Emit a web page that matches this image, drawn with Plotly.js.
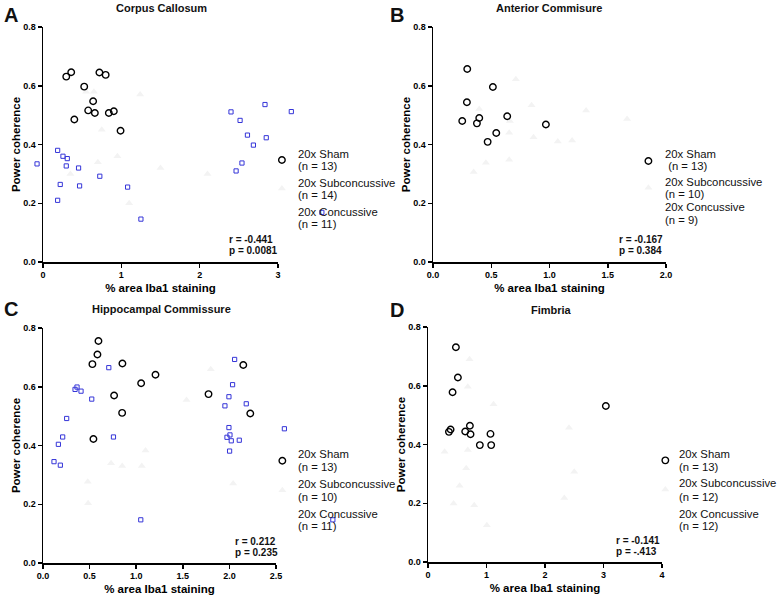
<!DOCTYPE html>
<html><head><meta charset="utf-8">
<script src="https://cdn.plot.ly/plotly-3.0.1.min.js"></script>
<style>html,body{margin:0;padding:0;background:#fff}#chart{width:777px;height:595px}</style>
</head><body><div id="chart"></div>
<script>
// Panel A - Corpus Callosum
const shamAx = [0.297,0.36,0.72,0.80,0.526,0.64,0.577,0.662,0.40,0.84,0.904,0.99,3.05];
const shamAy = [0.631,0.646,0.645,0.637,0.597,0.547,0.516,0.507,0.485,0.507,0.513,0.447,0.347];
const blueAx = [0.187,0.255,0.31,-0.076,0.297,0.454,0.22,0.467,0.725,0.187,1.08,1.25,2.40,2.516,2.834,3.17,2.61,2.85,2.686,2.54,2.465,3.56];
const blueAy = [0.380,0.360,0.352,0.334,0.327,0.320,0.264,0.259,0.292,0.21,0.255,0.146,0.511,0.482,0.536,0.512,0.432,0.423,0.398,0.337,0.310,0.169];
const faintAx = [0.55,0.65,1.24,0.75,0.95,1.5,0.35,1.1,3.05,0.7,2.1];
const faintAy = [0.58,0.58,0.57,0.45,0.36,0.32,0.30,0.20,0.25,0.34,0.30];

// Panel B - Anterior Commisure
const shamBx = [0.294,0.514,0.291,0.251,0.377,0.397,0.637,0.543,0.469,0.969,1.849];
const shamBy = [0.657,0.596,0.544,0.480,0.472,0.490,0.496,0.439,0.409,0.468,0.344];
const faintBx = [0.711,0.397,0.846,1.314,1.666,0.654,1.071,1.194,0.654,0.349,0.454,1.849,0.863,0.66];
const faintBy = [0.622,0.521,0.534,0.516,0.487,0.440,0.410,0.414,0.348,0.306,0.338,0.253,0.425,0.48];

// Panel C - Hippocampal Commissure
const shamCx = [0.595,0.584,0.530,0.852,1.207,1.053,0.763,0.849,0.541,1.776,2.149,2.224,2.568];
const shamCy = [0.756,0.710,0.677,0.679,0.641,0.612,0.570,0.511,0.422,0.575,0.674,0.509,0.348];
const blueCx = [0.706,0.365,0.344,0.408,0.523,0.254,0.211,0.756,0.165,0.118,0.186,1.049,2.056,2.034,1.995,1.952,2.181,1.995,1.974,2.006,2.02,2.106,2.002,2.59,3.11];
const blueCy = [0.665,0.599,0.591,0.585,0.558,0.492,0.429,0.429,0.404,0.345,0.333,0.147,0.693,0.607,0.566,0.535,0.542,0.461,0.428,0.436,0.416,0.418,0.381,0.457,0.147];
const faintCx = [0.48,0.484,2.04,2.568,1.10,1.06,0.73,0.85,1.54,1.8];
const faintCy = [0.277,0.203,0.271,0.248,0.383,0.33,0.34,0.33,0.555,0.66];

// Panel D - Fimbria
const shamDx = [0.477,0.511,0.420,0.358,0.386,0.636,0.716,0.727,0.886,1.068,1.080,3.04,4.057];
const shamDy = [0.731,0.628,0.578,0.443,0.451,0.444,0.464,0.435,0.398,0.436,0.398,0.531,0.346];
const faintDx = [0.68,0.71,1.12,2.41,0.284,0.68,0.653,0.54,0.437,0.79,1.006,2.33,2.5,4.057];
const faintDy = [0.597,0.69,0.537,0.457,0.375,0.381,0.319,0.26,0.199,0.193,0.125,0.218,0.307,0.247];

const xTicksA = [0,1,2,3], xTicksB = [0,0.5,1,1.5,2], xTicksC = [0,0.5,1,1.5,2,2.5], xTicksD = [0,1,2,3,4];
const yTicks = [0,0.2,0.4,0.6,0.8];

const FONT = 'Arial, "Liberation Sans", Helvetica, sans-serif';
const sham = {symbol:'circle-open', size:6.5, color:'#000', line:{width:1.4,color:'#000'}};
const blue = {symbol:'square-open', size:4.2, color:'#3535d8', line:{width:1,color:'#3535d8'}};
const faint = {symbol:'triangle-up', size:7, color:'#f3f3f3', line:{width:0}};

function tr(x,y,m,xa,ya,name){return {type:'scatter',mode:'markers',x:x,y:y,marker:m,xaxis:xa,yaxis:ya,cliponaxis:false,showlegend:false,name:name,hoverinfo:'x+y'};}
function axisHolder(xa,ya){return {type:'scatter',mode:'markers',x:[],y:[],xaxis:xa,yaxis:ya,showlegend:false,hoverinfo:'skip'};}

// points drawn on hidden x-axes that share the visible axes' scale but extend beyond their ends
const data = [
  axisHolder('x','y'), axisHolder('x3','y3'), axisHolder('x4','y4'),
  tr(faintAx,faintAy,faint,'x5','y','faint'), tr(blueAx,blueAy,blue,'x5','y','blue'), tr(shamAx,shamAy,sham,'x5','y','20x Sham'),
  tr(faintBx,faintBy,faint,'x2','y2','faint'), tr(shamBx,shamBy,sham,'x2','y2','20x Sham'),
  tr(faintCx,faintCy,faint,'x6','y3','faint'), tr(blueCx,blueCy,blue,'x6','y3','blue'), tr(shamCx,shamCy,sham,'x6','y3','20x Sham'),
  tr(faintDx,faintDy,faint,'x7','y4','faint'), tr(shamDx,shamDy,sham,'x7','y4','20x Sham')
];

function xax(dom,range,ticks,anchor,fmt){return {domain:dom,range:range,tickvals:ticks,tickformat:fmt,anchor:anchor,showgrid:false,zeroline:false,showline:true,linecolor:'#000',linewidth:1.5,ticks:'outside',ticklen:4,tickwidth:1.5,tickcolor:'#000',tickfont:{family:FONT,size:9,weight:'bold',color:'#000'},title:{text:'% area Iba1 staining',font:{family:FONT,size:11.5,weight:'bold',color:'#000'},standoff:4}};}
function yax(dom,anchor){return {domain:dom,range:[0,0.8],tickvals:yTicks,tickformat:'.1f',anchor:anchor,showgrid:false,zeroline:false,showline:true,linecolor:'#000',linewidth:1.5,ticks:'outside',ticklen:4,tickwidth:1.5,tickcolor:'#000',tickfont:{family:FONT,size:9,weight:'bold',color:'#000'},title:{text:'Power coherence',font:{family:FONT,size:11.5,weight:'bold',color:'#000'},standoff:0}};}

const W=777,H=595;
const px=v=>v/W, py=v=>1-v/H;
// hidden wide axis with the same pixels-per-unit as a visible one
function wide(x0px,x1px,r0,r1,lo,hi,anchor){const k=(x1px-x0px)/(r1-r0);return {domain:[px(x0px+(lo-r0)*k),px(x0px+(hi-r0)*k)],range:[lo,hi],visible:false,anchor:anchor,showgrid:false,zeroline:false};}

const ann=[];
function txt(x,y,t,size,bold,anchor){ann.push({xref:'paper',yref:'paper',x:px(x),y:py(y),text:t,showarrow:false,xanchor:anchor||'left',yanchor:'middle',font:{family:FONT,size:size,color:'#111',weight:bold?'bold':'normal'}});}
// panel letters and titles
txt(11,15,'A',20,true,'center'); txt(161,8,'Corpus Callosum',11,true,'center');
txt(397,15,'B',20,true,'center'); txt(549,8,'Anterior Commisure',11,true,'center');
txt(11,309,'C',20,true,'center'); txt(161,309,'Hippocampal Commissure',11,true,'center');
txt(397,310,'D',20,true,'center'); txt(551,310,'Fimbria',11,true,'center');
// legend texts
function leg(x,ys,n){const L=['20x Sham',n[0],'20x Subconcussive',n[1],'20x Concussive',n[2]];L.forEach((t,i)=>txt(x,ys[i],t,11.3,false));}
leg(296,[154,166,183,195,212,224],['(n = 13)','(n = 14)','(n = 11)']);
leg(663,[154,166,182,194,207,220],[' (n = 13)','(n = 10)','(n = 9)']);
leg(296,[454,467,484,497,514,526],['(n = 13)','(n = 10)','(n = 11)']);
leg(677,[454,467,483,497,514,526],['(n = 13)','(n = 12)','(n = 12)']);
// stats
txt(227,239,'r = -0.441',10,true); txt(227,250,'p = 0.0081',10,true);
txt(617,239,'r = -0.167',10,true); txt(617,250,'p = 0.384',10,true);
txt(233,541,'r = 0.212',10,true); txt(233,552,'p = 0.235',10,true);
txt(614,540,'r = -0.141',10,true); txt(614,551,'p = -.413',10,true);

const yA=[py(262),py(27)], yC=[py(563),py(328)], yD=[py(562),py(327)];
const layout = {
  width:W,height:H,margin:{l:0,r:0,t:0,b:0},paper_bgcolor:'#fff',plot_bgcolor:'rgba(0,0,0,0)',showlegend:false,
  font:{family:FONT,color:'#000'},
  xaxis:xax([px(43),px(278)],[0,3],xTicksA,'y','d'), yaxis:yax(yA,'x'),
  xaxis2:xax([px(433),px(666)],[0,2],xTicksB,'y2','.1f'), yaxis2:yax(yA,'x2'),
  xaxis3:xax([px(43),px(276)],[0,2.5],xTicksC,'y3','.1f'), yaxis3:yax(yC,'x3'),
  xaxis4:xax([px(428),px(662)],[0,4],xTicksD,'y4','d'), yaxis4:yax(yD,'x4'),
  xaxis5:wide(43,278,0,3,-0.2,3.8,'y'),
  xaxis6:wide(43,276,0,2.5,-0.1,3.3,'y3'),
  xaxis7:wide(428,662,0,4,-0.1,4.3,'y4'),
  annotations:ann
};
Plotly.newPlot('chart',data,layout,{staticPlot:true});
</script></body></html>
